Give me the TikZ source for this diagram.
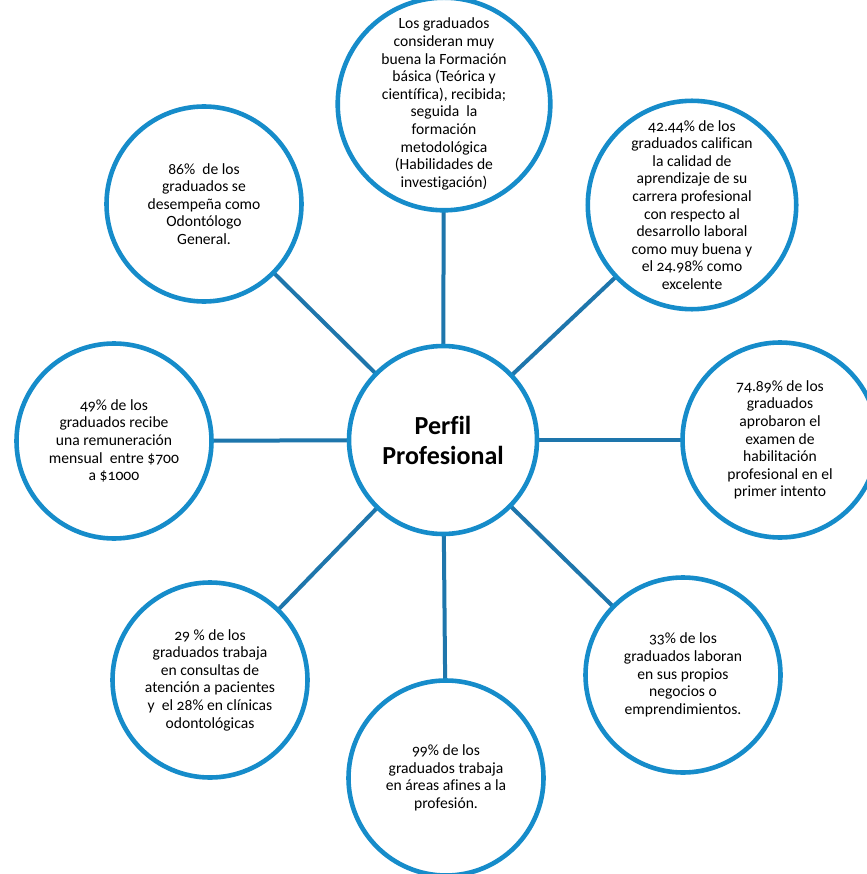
\documentclass[tikz,border=0pt]{standalone}
\usepackage{fontspec}
\setmainfont{Carlito}[Numbers=OldStyle,Ligatures=CommonOff]
\usetikzlibrary{backgrounds}
\definecolor{circblue}{RGB}{22,140,202}
\definecolor{linkblue}{RGB}{30,118,172}
\begin{document}
\begin{tikzpicture}[x=1pt,y=-1pt,
  bubble/.style={circle, draw=circblue, line width=4.6pt, fill=white,
    minimum size=195pt, inner sep=0pt, align=center,
    font=\fontsize{15.6}{17.6}\selectfont},
  hub/.style={circle, draw=circblue, line width=4.6pt, fill=white,
    minimum size=188pt, inner sep=0pt, align=center,
    font=\bfseries\fontsize{26}{30}\selectfont},
  link/.style={draw=linkblue, line width=4pt}]
\useasboundingbox (0,0) rectangle (866,874);

\node[hub] (hub) at (443,440) {Perfil\\Profesional};

\node[bubble] (t) at (444,104) {Los graduados\\consideran muy\\buena la Formación\\básica (Teórica y\\científica), recibida;\\seguida\ \ la\\formación\\metodológica\\(Habilidades de\\investigación)};

\node[bubble] (tr) at (692,205) {42.44\% de los\\graduados califican\\la calidad de\\aprendizaje de su\\carrera profesional\\con respecto al\\desarrollo laboral\\como muy buena y\\el 24.98\% como\\excelente};

\node[bubble] (r) at (780,440) {74.89\% de los\\graduados\\aprobaron el\\examen de\\habilitación\\profesional en el\\primer intento};

\node[bubble] (br) at (683,675) {33\% de los\\graduados laboran\\en sus propios\\negocios o\\emprendimientos.};

\node[bubble] (b) at (446,778) {99\% de los\\graduados trabaja\\en áreas afines a la\\profesión.};

\node[bubble] (bl) at (210,680) {29 \% de los\\graduados trabaja\\en consultas de\\atención a pacientes\\y\ \ el 28\% en clínicas\\odontológicas};

\node[bubble] (l) at (114,441) {49\% de los\\graduados recibe\\una remuneración\\mensual\ \ entre \$700\\a \$1000};

\node[bubble] (tl) at (204,204) {86\%\ \ de los\\graduados se\\desempeña como\\Odontólogo\\General.};

\begin{pgfonlayer}{background}
  \fill[white] (0,0) rectangle (866,874);
  \foreach \n in {t,tr,r,br,b,bl,l,tl}
    \draw[link] (hub.center) -- (\n.center);
\end{pgfonlayer}
\end{tikzpicture}
\end{document}
